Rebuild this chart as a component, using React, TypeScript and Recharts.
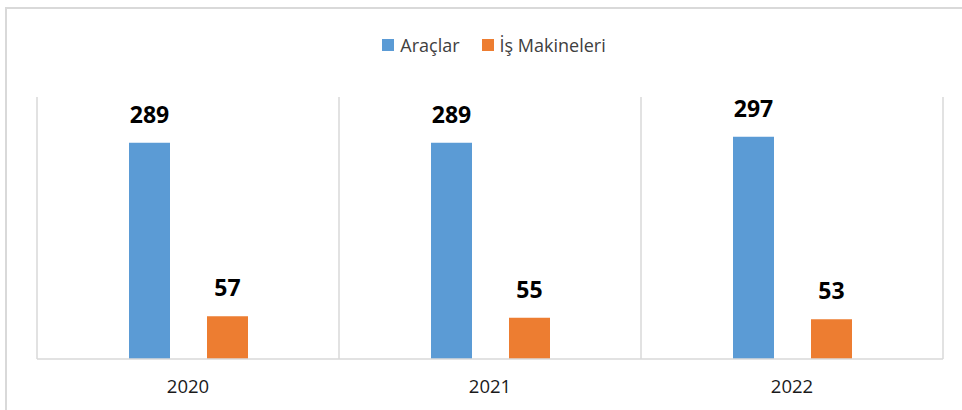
import React from 'react'
import { BarChart, Bar, XAxis, YAxis, CartesianGrid, Legend, LabelList } from 'recharts'

const years = ['2020', '2021', '2022']
const araclar = [289, 289, 297]
const isMakineleri = [57, 55, 53]
const seriesNames = ['Araçlar', 'İş Makineleri']

const data = years.map((year, i) => ({
  year,
  araclar: araclar[i],
  isMakineleri: isMakineleri[i],
}))

const FONT = '"Open Sans", sans-serif'
const GRID = '#d9d9d9'

function LegendContent({ payload }: any) {
  return (
    <div
      style={{
        display: 'flex',
        justifyContent: 'center',
        paddingLeft: 26,
        fontFamily: FONT,
        fontSize: 18,
        color: '#404040',
      }}
    >
      {(payload || []).map((entry: any, i: number) => (
        <div key={i} style={{ display: 'flex', alignItems: 'center', marginRight: i === 0 ? 22 : 0 }}>
          <span style={{ width: 12, height: 12, background: entry.color, marginRight: 6, display: 'inline-block' }} />
          <span>{entry.value}</span>
        </div>
      ))}
    </div>
  )
}

export default function App() {
  return (
    <div style={{ position: 'absolute', left: 0, top: 0, width: 962, height: 410, overflow: 'hidden', background: '#fff' }}>
      <div
        style={{
          position: 'absolute',
          left: 5,
          top: 7,
          width: 980,
          height: 430,
          border: `2px solid ${GRID}`,
        }}
      />
      <BarChart
        width={962}
        height={410}
        data={data}
        margin={{ top: 97, right: 19, left: 37, bottom: 11 }}
        barSize={41}
        barGap={37}
      >
        <CartesianGrid
          horizontal={false}
          stroke={GRID}
          strokeWidth={1.5}
          verticalCoordinatesGenerator={({ offset }: any) =>
            [0, 1, 2, 3].map((i) => offset.left + (offset.width * i) / years.length)
          }
        />
        <XAxis
          dataKey="year"
          axisLine={{ stroke: GRID, strokeWidth: 1.5 }}
          tickLine={false}
          height={40}
          tick={{ fontSize: 18.5, fill: '#1a1a1a', fontFamily: FONT }}
          tickMargin={15}
        />
        <YAxis hide domain={[0, 350]} />
        <Legend
          verticalAlign="middle"
          content={<LegendContent />}
          wrapperStyle={{ top: 33, left: 0, width: 962 }}
        />
        <Bar dataKey="araclar" name={seriesNames[0]} fill="#5b9bd5" isAnimationActive={false}>
          <LabelList dataKey="araclar" position="top" offset={20} fill="#000" fontSize={23} fontWeight="bold" fontFamily={FONT} />
        </Bar>
        <Bar dataKey="isMakineleri" name={seriesNames[1]} fill="#ed7d31" isAnimationActive={false}>
          <LabelList dataKey="isMakineleri" position="top" offset={20} fill="#000" fontSize={23} fontWeight="bold" fontFamily={FONT} />
        </Bar>
      </BarChart>
    </div>
  )
}
